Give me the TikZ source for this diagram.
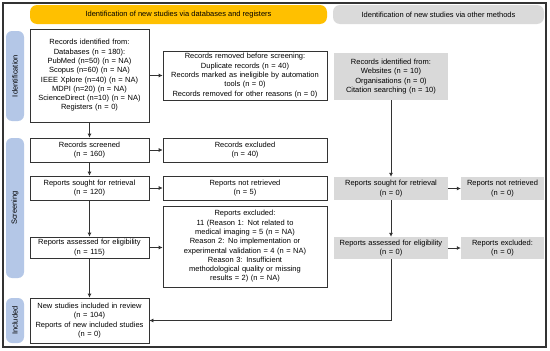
\documentclass[tikz,border=0pt]{standalone}
\usepackage{fontspec}
\setmainfont{Liberation Sans}
\usetikzlibrary{arrows.meta}
\definecolor{hdryellow}{HTML}{FFC000}
\definecolor{hdrgray}{HTML}{DADADA}
\definecolor{boxgray}{HTML}{D9D9D9}
\definecolor{sideblue}{HTML}{B4C7E7}
\definecolor{linecol}{HTML}{333333}
\tikzset{
  base/.style={inner xsep=2pt, inner ysep=1pt, align=center, font=\fontsize{7.5}{9.3}\selectfont, text=black},
  wbox/.style={base, draw=linecol, line width=0.7pt, fill=white},
  gbox/.style={base, fill=boxgray},
  hdr/.style={base, rounded corners=7pt},
  side/.style={base, fill=sideblue, rounded corners=6pt, minimum width=18pt, text width=14pt},
  arr/.style={draw=linecol, line width=0.7pt, -{Latex[length=4pt,width=4pt]}}
}
\begin{document}
\begin{tikzpicture}[x=1pt,y=-1pt]
\useasboundingbox (0,0) rectangle (550,351);
\fill[white] (0,0) rectangle (550,351);
\draw[linecol, line width=1.2pt] (3,3) rectangle (546,347);
% headers
\node[hdr, fill=hdryellow, minimum width=297pt, minimum height=19pt] (h1) at (178.5,14.5) {Identification of new studies via databases and registers};
\node[hdr, fill=hdrgray, minimum width=211pt, minimum height=19pt] (h2) at (438.5,14.5) {Identification of new studies via other methods};
% side bars
\node[side, minimum height=90pt] (s1) at (15,76) {\rotatebox{90}{Identification}};
\node[side, minimum height=140pt] (s2) at (15,208) {\rotatebox{90}{Screening}};
\node[side, minimum height=45pt] (s3) at (15,320.5) {\rotatebox{90}{Included}};
% left column
\node[wbox, minimum width=119pt, text width=115pt, minimum height=93pt] (ident) at (89.5,75.5) {Records identified from:\\Databases (n = 180):\\PubMed (n=50) (n = NA)\\Scopus (n=60) (n = NA)\\IEEE Xplore (n=40) (n = NA)\\MDPI (n=20) (n = NA)\\ScienceDirect (n=10) (n = NA)\\Registers (n = 0)};
\node[wbox, minimum width=164pt, text width=160pt, minimum height=49pt] (removed) at (245,75.5) {Records removed before screening:\\Duplicate records (n = 40)\\Records marked as ineligible by automation\\tools (n = 0)\\Records removed for other reasons (n = 0)};
\node[wbox, minimum width=119pt, text width=115pt, minimum height=24pt] (screened) at (89.5,150) {Records screened\\(n = 160)};
\node[wbox, minimum width=164pt, text width=160pt, minimum height=24pt] (excl) at (245,150) {Records excluded\\(n = 40)};
\node[wbox, minimum width=119pt, text width=115pt, minimum height=24pt] (sought) at (89.5,188) {Reports sought for retrieval\\(n = 120)};
\node[wbox, minimum width=164pt, text width=160pt, minimum height=24pt] (notret) at (245,188) {Reports not retrieved\\(n = 5)};
\node[wbox, minimum width=119pt, text width=115pt, minimum height=21pt] (assess) at (89.5,247.5) {Reports assessed for eligibility\\(n = 115)};
\node[wbox, minimum width=164pt, text width=160pt, minimum height=81pt] (repexcl) at (245,246.5) {Reports excluded:\\11 (Reason 1: Not related to\\medical imaging = 5 (n = NA)\\Reason 2: No implementation or\\experimental validation = 4 (n = NA)\\Reason 3: Insufficient\\methodological quality or missing\\results = 2) (n = NA)};
\node[wbox, minimum width=119pt, text width=115pt, minimum height=45pt] (incl) at (89.5,320.5) {New studies included in review\\(n = 104)\\Reports of new included studies\\(n = 0)};
% right column
\node[gbox, minimum width=114pt, text width=110pt, minimum height=47pt] (oident) at (391,76.5) {Records identified from:\\Websites (n = 10)\\Organisations (n = 0)\\Citation searching (n = 10)};
\node[gbox, minimum width=114pt, text width=110pt, minimum height=23pt] (osought) at (391,188.5) {Reports sought for retrieval\\(n = 0)};
\node[gbox, minimum width=83pt, text width=79pt, minimum height=23pt] (onotret) at (502.5,188.5) {Reports not retrieved\\(n = 0)};
\node[gbox, minimum width=114pt, text width=110pt, minimum height=22pt] (oassess) at (391,248) {Reports assessed for eligibility\\(n = 0)};
\node[gbox, minimum width=83pt, text width=79pt, minimum height=22pt] (oexcl) at (502.5,248) {Reports excluded:\\(n = 0)};
\coordinate (corner) at (oassess.south |- incl.east);
% connectors
\draw[arr] (ident) -- (removed);
\draw[arr] (ident) -- (screened);
\draw[arr] (screened) -- (excl);
\draw[arr] (screened) -- (sought);
\draw[arr] (sought) -- (notret);
\draw[arr] (sought) -- (assess);
\draw[arr] (assess) -- (repexcl.west |- assess);
\draw[arr] (assess) -- (incl);
\draw[arr] (oident) -- (osought);
\draw[arr] (osought) -- (onotret);
\draw[arr] (osought) -- (oassess);
\draw[arr] (oassess) -- (oexcl);
\draw[arr] (oassess.south) -- (corner) -- (incl.east);
\end{tikzpicture}
\end{document}
